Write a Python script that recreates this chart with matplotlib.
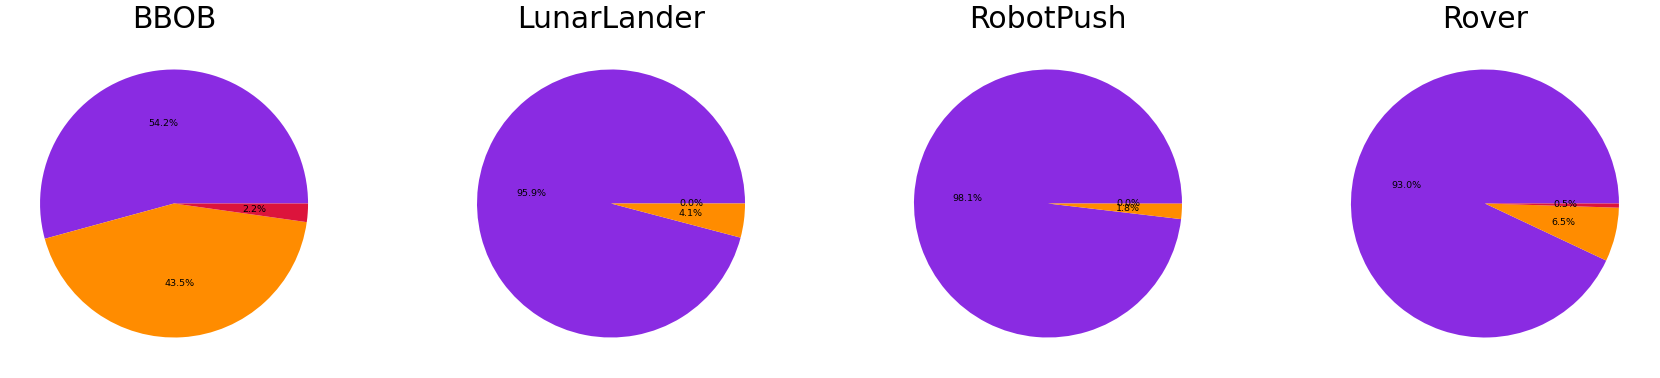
import matplotlib
matplotlib.use('Agg')
import matplotlib.pyplot as plt

# share of each category per benchmark (percent)
benchmarks = ['BBOB', 'LunarLander', 'RobotPush', 'Rover']
purple_share = [54.24, 95.9, 98.14, 93.0]
orange_share = [43.54, 4.1, 1.83, 6.5]
red_share = [2.22, 0.0, 0.03, 0.5]
colors = ['blueviolet', 'darkorange', 'crimson']

fig, axes = plt.subplots(1, 4, figsize=(16.6, 3.78), dpi=100)
fig.subplots_adjust(left=6.5 / 1660, right=1652.5 / 1660,
                    bottom=7 / 378, top=342 / 378, wspace=0.304)

for i, ax in enumerate(axes):
    sizes = [purple_share[i], orange_share[i], red_share[i]]
    ax.pie(sizes, colors=colors, autopct='%1.1f%%', textprops={'fontsize': 6.8})
    ax.set_title(benchmarks[i], fontsize=21.5)

plt.savefig('out.png', dpi=100)
